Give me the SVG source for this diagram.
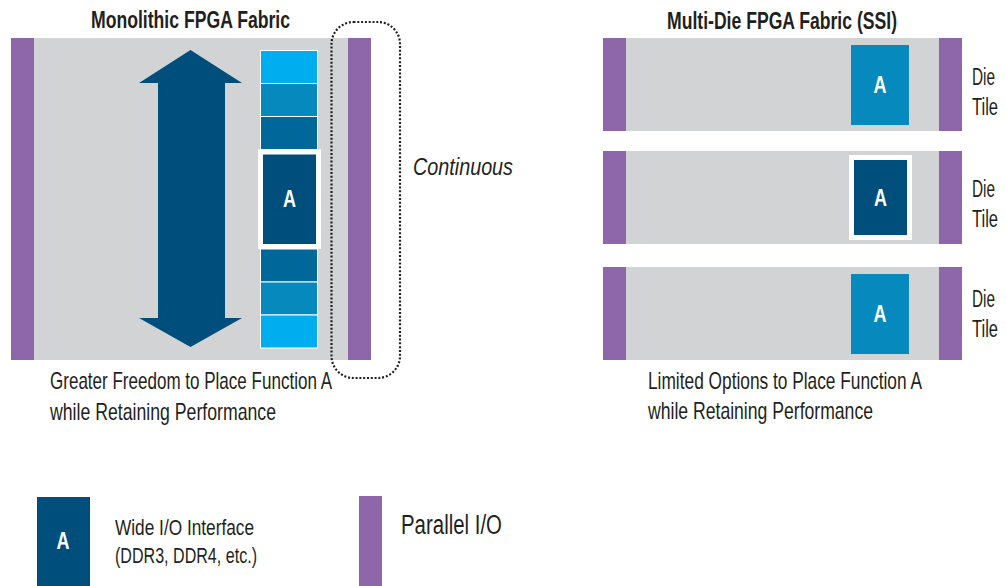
<svg xmlns="http://www.w3.org/2000/svg" width="1006" height="586" viewBox="0 0 1006 586">
<style>
.t{font-family:"Liberation Sans Narrow","Liberation Sans",Arial,sans-serif;fill:#231f20}
.b{font-weight:bold}
.lbl{font-family:"Liberation Sans Narrow","Liberation Sans",Arial,sans-serif;font-weight:bold;fill:#ffffff;font-size:23px;text-anchor:middle}
.gray{fill:#d1d3d4}
.pio{fill:#8e67ab}
.navy{fill:#004e7c}
.c1{fill:#00aeef;stroke:#ffffff;stroke-width:1}
.c2{fill:#068abd;stroke:#ffffff;stroke-width:1}
.c3{fill:#00679a;stroke:#ffffff;stroke-width:1}
.frame{fill:#004e7c;stroke:#ffffff;stroke-width:5}
</style>
<rect width="1006" height="586" fill="#ffffff"/>

<g id="monolithic">
  <text class="t b" x="91" y="28" font-size="24" textLength="199" lengthAdjust="spacingAndGlyphs">Monolithic FPGA Fabric</text>
  <rect class="gray" x="11" y="38" width="360" height="322"/>
  <rect class="pio" x="11" y="38" width="23" height="322"/>
  <rect class="pio" x="348" y="38" width="23" height="322"/>
  <path class="navy" d="M190.5,50 L242,83 L225,83 L225,318 L242,318 L190.5,347 L139,318 L158,318 L158,83 L139,83 Z"/>
  <rect class="c1" x="260.5" y="50.5" width="57" height="33"/>
  <rect class="c2" x="260.5" y="83.5" width="57" height="33"/>
  <rect class="c3" x="260.5" y="116.5" width="57" height="33"/>
  <rect class="c3" x="260.5" y="249" width="57" height="33"/>
  <rect class="c2" x="260.5" y="282" width="57" height="33"/>
  <rect class="c1" x="260.5" y="315" width="57" height="33"/>
  <rect class="frame" x="260.5" y="152" width="58" height="94.5"/>
  <text class="lbl" x="289.5" y="207" textLength="13" lengthAdjust="spacingAndGlyphs">A</text>
  <text class="t" x="50" y="389" font-size="24" textLength="282" lengthAdjust="spacingAndGlyphs">Greater Freedom to Place Function A</text>
  <text class="t" x="50" y="420" font-size="24" textLength="226" lengthAdjust="spacingAndGlyphs">while Retaining Performance</text>
</g>

<g id="continuous">
  <rect x="331.5" y="22" width="68.5" height="356" rx="22" ry="22" fill="none" stroke="#231f20" stroke-width="2.2" stroke-dasharray="2 1.8"/>
  <text class="t" x="413" y="175" font-size="23" font-style="italic" textLength="100" lengthAdjust="spacingAndGlyphs">Continuous</text>
</g>

<g id="multidie">
  <text class="t b" x="667" y="28.5" font-size="24" textLength="230" lengthAdjust="spacingAndGlyphs">Multi-Die FPGA Fabric (SSI)</text>
  <text class="t" x="648" y="389" font-size="24" textLength="274" lengthAdjust="spacingAndGlyphs">Limited Options to Place Function A</text>
  <text class="t" x="648" y="419" font-size="24" textLength="225" lengthAdjust="spacingAndGlyphs">while Retaining Performance</text>
</g>

<g id="die1">
  <rect class="gray" x="603" y="38" width="359" height="93"/>
  <rect class="pio" x="603" y="38" width="23" height="93"/>
  <rect class="pio" x="939" y="38" width="23" height="93"/>
  <rect x="851" y="45" width="58" height="80" fill="#068abd"/>
  <text class="lbl" x="880" y="93" textLength="13" lengthAdjust="spacingAndGlyphs">A</text>
  <text class="t" x="972" y="85" font-size="23" textLength="23" lengthAdjust="spacingAndGlyphs">Die</text>
  <text class="t" x="972" y="115" font-size="23" textLength="26" lengthAdjust="spacingAndGlyphs">Tile</text>
</g>

<g id="die2">
  <rect class="gray" x="603" y="151" width="359" height="93"/>
  <rect class="pio" x="603" y="151" width="23" height="93"/>
  <rect class="pio" x="939" y="151" width="23" height="93"/>
  <rect class="frame" x="851.5" y="157.5" width="58" height="80"/>
  <text class="lbl" x="880.5" y="206" textLength="13" lengthAdjust="spacingAndGlyphs">A</text>
  <text class="t" x="972" y="197" font-size="23" textLength="23" lengthAdjust="spacingAndGlyphs">Die</text>
  <text class="t" x="972" y="227" font-size="23" textLength="26" lengthAdjust="spacingAndGlyphs">Tile</text>
</g>

<g id="die3">
  <rect class="gray" x="603" y="267" width="359" height="93"/>
  <rect class="pio" x="603" y="267" width="23" height="93"/>
  <rect class="pio" x="939" y="267" width="23" height="93"/>
  <rect x="851" y="274" width="58" height="80" fill="#068abd"/>
  <text class="lbl" x="880" y="322" textLength="13" lengthAdjust="spacingAndGlyphs">A</text>
  <text class="t" x="972" y="307" font-size="23" textLength="23" lengthAdjust="spacingAndGlyphs">Die</text>
  <text class="t" x="972" y="337" font-size="23" textLength="26" lengthAdjust="spacingAndGlyphs">Tile</text>
</g>

<g id="legend-wideio">
  <rect class="navy" x="37" y="497" width="53" height="89"/>
  <text class="lbl" x="63" y="549" textLength="13" lengthAdjust="spacingAndGlyphs">A</text>
  <text class="t" x="115" y="535" font-size="22" textLength="139" lengthAdjust="spacingAndGlyphs">Wide I/O Interface</text>
  <text class="t" x="115" y="563" font-size="22" textLength="142" lengthAdjust="spacingAndGlyphs">(DDR3, DDR4, etc.)</text>
</g>

<g id="legend-parallelio">
  <rect class="pio" x="359" y="496" width="23" height="90"/>
  <text class="t" x="401" y="534" font-size="27" textLength="101" lengthAdjust="spacingAndGlyphs">Parallel I/O</text>
</g>

<g id="connectors"></g>
</svg>
